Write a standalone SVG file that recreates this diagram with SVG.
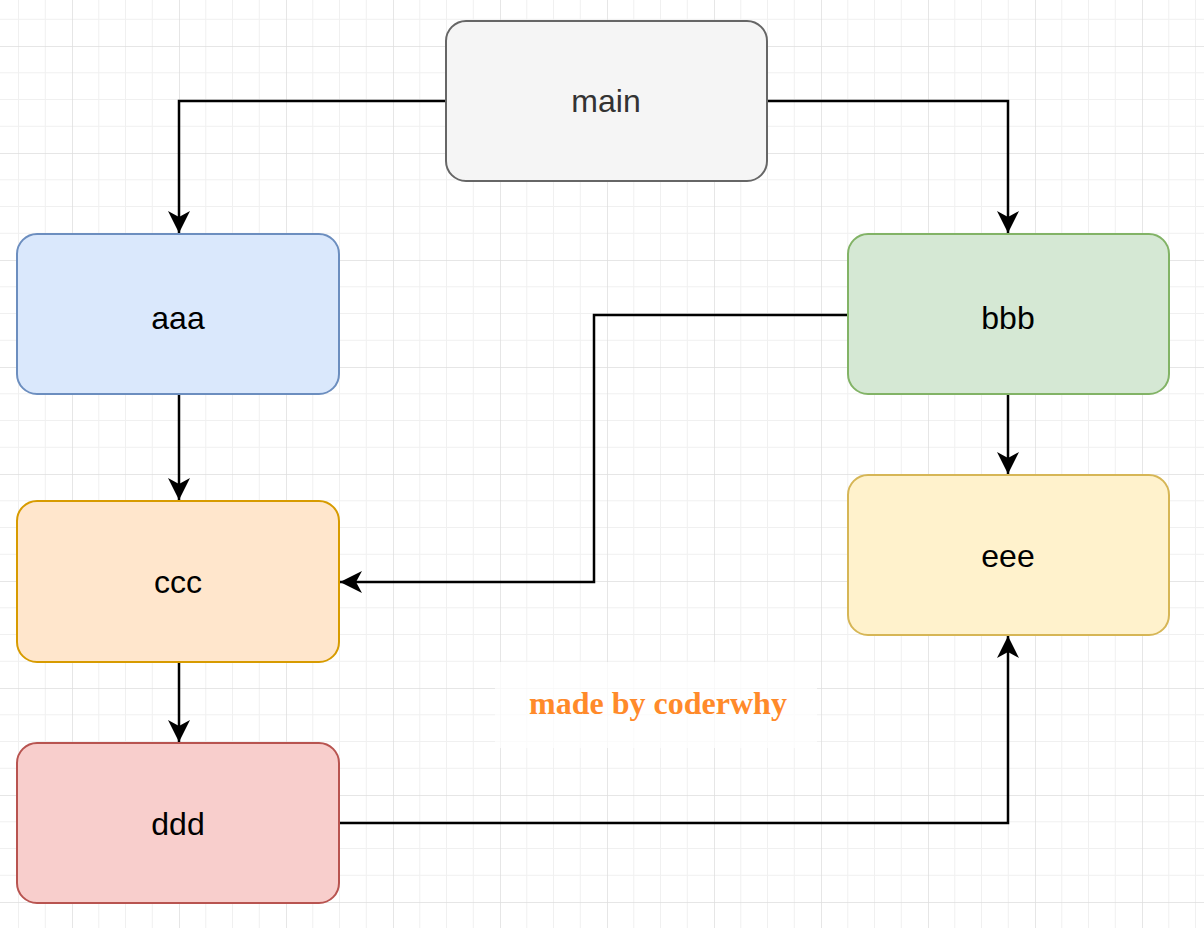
<svg xmlns="http://www.w3.org/2000/svg" width="1204" height="937" viewBox="0 0 1204 937">
  <style>
    .node rect { stroke-width: 2; }
    .node text { font-family: "Liberation Sans", Arial, sans-serif; font-size: 32px; text-anchor: middle; dominant-baseline: central; fill: #000; }
    .edge { fill: none; stroke: #000; stroke-width: 2.5; marker-end: url(#arrow); }
    .minor { stroke: #f0f0f0; stroke-width: 1; }
    .major { stroke: #dedede; stroke-width: 1.5; }
  </style>
  <defs>
    <pattern id="grid" x="72" y="46" width="107" height="107" patternUnits="userSpaceOnUse">
      <path class="minor" d="M26.75,0 V107 M53.5,0 V107 M80.25,0 V107 M0,26.75 H107 M0,53.5 H107 M0,80.25 H107"/>
      <path class="major" d="M0,0 V107 M0,0 H107"/>
    </pattern>
    <marker id="arrow" markerUnits="userSpaceOnUse" markerWidth="24" markerHeight="24" refX="22" refY="11" orient="auto">
      <path d="M22,11 L0,0 L6,11 L0,22 Z" fill="#000"/>
    </marker>
  </defs>

  <!-- canvas background with grid -->
  <rect x="0" y="0" width="1204" height="937" fill="#fff"/>
  <rect x="0" y="0" width="1204" height="928" fill="url(#grid)"/>

  <!-- connectors -->
  <g id="edges">
    <path class="edge" d="M446,101 H179 V233"/>
    <path class="edge" d="M767,101 H1008 V233"/>
    <path class="edge" d="M179,394 V500"/>
    <path class="edge" d="M848,315 H594 V582 H340"/>
    <path class="edge" d="M1008,394 V474"/>
    <path class="edge" d="M179,662 V742"/>
    <path class="edge" d="M339,823 H1008 V636"/>
  </g>

  <g id="main" class="node">
    <rect x="446" y="21" width="321" height="160" rx="20" fill="#f5f5f5" stroke="#666"/>
    <text x="606" y="101" style="fill:#333">main</text>
  </g>
  <g id="aaa" class="node">
    <rect x="17" y="234" width="322" height="160" rx="20" fill="#dae8fc" stroke="#6c8ebf"/>
    <text x="178" y="318">aaa</text>
  </g>
  <g id="bbb" class="node">
    <rect x="848" y="234" width="321" height="160" rx="20" fill="#d5e8d4" stroke="#82b366"/>
    <text x="1008" y="318">bbb</text>
  </g>
  <g id="ccc" class="node">
    <rect x="17" y="501" width="322" height="161" rx="20" fill="#ffe6cc" stroke="#d79b00"/>
    <text x="178" y="582">ccc</text>
  </g>
  <g id="eee" class="node">
    <rect x="848" y="475" width="321" height="160" rx="20" fill="#fff2cc" stroke="#d6b656"/>
    <text x="1008" y="556">eee</text>
  </g>
  <g id="ddd" class="node">
    <rect x="17" y="743" width="322" height="160" rx="20" fill="#f8cecc" stroke="#b85450"/>
    <text x="178" y="824">ddd</text>
  </g>

  <!-- watermark -->
  <g id="watermark">
    <rect x="495" y="662" width="322" height="86" fill="#fff" fill-opacity="0.75"/>
    <text x="658" y="714" font-family="'Liberation Serif', 'Times New Roman', serif" font-weight="bold" font-size="32" fill="#ff8a2a" text-anchor="middle">made by coderwhy</text>
  </g>
</svg>
